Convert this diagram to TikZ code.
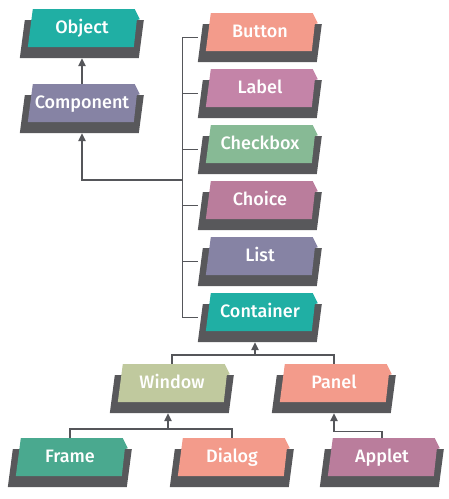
\documentclass[tikz,border=0pt]{standalone}
\usepackage{fontspec}
\setmainfont{Fira Sans}[BoldFont={Fira Sans Medium}]
\usetikzlibrary{arrows.meta,calc,backgrounds}
\definecolor{boxdark}{HTML}{58585B}
\definecolor{linegray}{HTML}{55565A}
\definecolor{cteal}{HTML}{20AFA4}
\definecolor{cslate}{HTML}{8683A4}
\definecolor{csalmon}{HTML}{F39B8B}
\definecolor{cpink}{HTML}{C484A8}
\definecolor{cgreen}{HTML}{87BA95}
\definecolor{cmauve}{HTML}{BA7D9C}
\definecolor{colive}{HTML}{C0C99E}
\definecolor{cseagreen}{HTML}{4AA98F}
\begin{document}
\begin{tikzpicture}[x=1pt,y=-1pt,
  cls/.style={minimum width=124pt, minimum height=49pt, inner sep=0pt,
    text=white, font=\fontsize{18}{21}\selectfont\bfseries,
    text height=12pt, text depth=13pt},
  shade/.style={fill=boxdark},
  conn/.style={draw=linegray, line width=1.2pt},
  arr/.style={conn, -{Triangle[width=7.5pt,length=8pt]}}]
\useasboundingbox (0,0) rectangle (449,499);

\node[cls] (obj)       at (82,33.5)   {Object};
\node[cls] (comp)      at (82,108.5)  {Component};
\node[cls] (button)    at (260,37.5)  {Button};
\node[cls] (label)     at (260,93.5)  {Label};
\node[cls] (checkbox)  at (260,149.5) {Checkbox};
\node[cls] (choice)    at (260,205.5) {Choice};
\node[cls] (list)      at (260,261.5) {List};
\node[cls] (container) at (260,317.5) {Container};
\node[cls] (window)    at (172,388.5) {Window};
\node[cls] (panel)     at (334,388.5) {Panel};
\node[cls] (frame)     at (70,462.5)  {Frame};
\node[cls] (dialog)    at (232,462.5) {Dialog};
\node[cls] (applet)    at (382,462.5) {Applet};

\begin{scope}[on background layer]
\fill[white] (0,0) rectangle (449,499);
\foreach \n/\c in {obj/cteal, comp/cslate, button/csalmon, label/cpink,
    checkbox/cgreen, choice/cmauve, list/cslate, container/cteal,
    window/colive, panel/csalmon, frame/cseagreen, dialog/csalmon, applet/cmauve}{
  \begin{scope}[shift={(\n.south west)}]
    \fill[shade] (0pt,0pt) -- (5pt,38pt) -- (124pt,38pt) -- (119pt,0pt) -- cycle;
    \fill[\c] (8pt,11pt) -- (13pt,49pt) -- (115pt,49pt) -- (120pt,39pt)
      -- (117pt,38pt) -- (114pt,11pt) -- cycle;
  \end{scope}
}
\end{scope}

% Object <- Component
\draw[arr] (comp.north) -- (obj.south);

% bus of Component children
\draw[conn] (button.west) -- ++(-15,0) |- (container.west);
\draw[conn] (label.west) -- ++(-15,0);
\draw[conn] (checkbox.west) -- ++(-15,0);
\draw[conn] (choice.west) -- ++(-15,0);
\draw[conn] (list.west) -- ++(-15,0);
\coordinate (cj) at (183,180);
\draw[arr] (cj) -| (comp.south);

% Container <- Window, Panel
\coordinate (k1) at (255,355);
\draw[arr] (k1) -- (k1 |- container.south);
\draw[conn] (window.north) -- (window.north |- k1) -- (panel.north |- k1) -- (panel.north);

% Window <- Frame, Dialog
\coordinate (k2) at (168,429);
\draw[arr] (k2) -- (k2 |- window.south);
\draw[conn] (frame.north) -- (frame.north |- k2) -- (dialog.north |- k2) -- (dialog.north);

% Panel <- Applet
\coordinate (k3) at ($(panel.south)+(0,18)$);
\draw[arr] (applet.north) |- (k3) -- (panel.south);
\end{tikzpicture}
\end{document}
